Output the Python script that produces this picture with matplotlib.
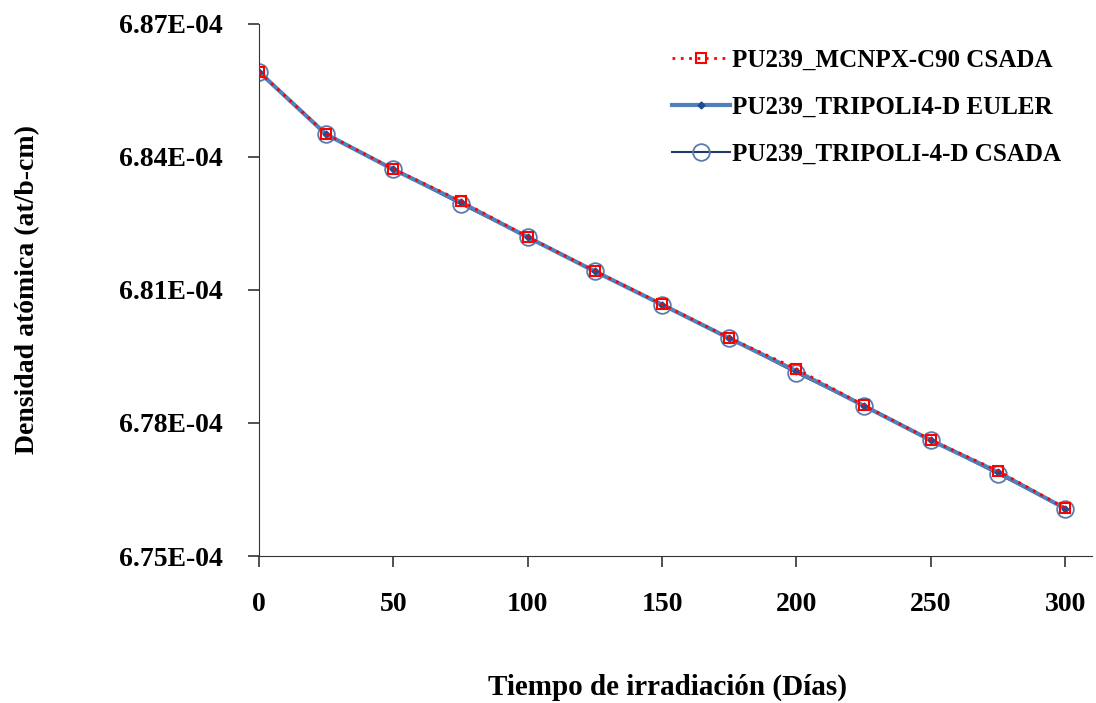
import matplotlib
matplotlib.use("Agg")
import matplotlib.pyplot as plt
from matplotlib.ticker import FuncFormatter

plt.rcParams['font.family'] = ['Liberation Serif', 'DejaVu Serif']
plt.rcParams['font.weight'] = 'bold'

# irradiation time (days)
dias = [0, 25, 50, 75, 100, 125, 150, 175, 200, 225, 250, 275, 300]
# atomic density in units of 1E-04 at/b-cm
mcnpx_csada = [6.8592, 6.8452, 6.8373, 6.8301, 6.8220, 6.8143, 6.8068,
               6.7992, 6.7922, 6.7840, 6.7762, 6.7692, 6.7608]
tripoli_euler = [6.8592, 6.8451, 6.8372, 6.8298, 6.8219, 6.8142, 6.8067,
                 6.7991, 6.7917, 6.7839, 6.7761, 6.7689, 6.7607]
tripoli_csada = [6.8592, 6.8451, 6.8372, 6.8294, 6.8219, 6.8142, 6.8067,
                 6.7991, 6.7913, 6.7839, 6.7761, 6.7685, 6.7607]
y_ticks = [6.75, 6.78, 6.81, 6.84, 6.87]
x_ticks = [0, 50, 100, 150, 200, 250, 300]

fig = plt.figure(figsize=(10.96, 7.03), dpi=100)
ax = fig.add_axes([0.2363, 0.2091, 0.7601, 0.7568])

ax.plot(dias, tripoli_csada, color='#1f3a68', lw=1.5, marker='o', ms=12,
        mfc='none', mec='#5a7bab', mew=1.3, label='PU239_TRIPOLI-4-D CSADA', zorder=2)
ax.plot(dias, tripoli_euler, color='#4f81bd', lw=3, marker='D', ms=3.5,
        mfc='#1f4e8c', mec='#1f4e8c', label='PU239_TRIPOLI4-D EULER', zorder=3)
ax.plot(dias, mcnpx_csada, color='#ff0000', lw=2, ls=(0, (1, 2)), marker='s', ms=7.5,
        mfc='none', mec='#ff0000', mew=1.5, label='PU239_MCNPX-C90 CSADA', zorder=4)

ax.set_xlim(0, 310)
ax.set_ylim(6.75, 6.87)
ax.set_xticks(x_ticks)
ax.set_yticks(y_ticks)
ax.yaxis.set_major_formatter(FuncFormatter(lambda v, p: f'{v:.2f}E-04'))
ax.spines['top'].set_visible(False)
ax.spines['right'].set_visible(False)
ax.spines['left'].set_color('#333333')
ax.spines['bottom'].set_color('#333333')
ax.tick_params(axis='both', direction='out', length=8, width=1.2, color='#333333',
               labelsize=20)
ax.tick_params(axis='x', pad=18)
ax.tick_params(axis='y', pad=18)

ax.set_xlabel('Tiempo de irradiación (Días)', fontsize=21, fontweight='bold')
ax.set_ylabel('Densidad atómica (at/b-cm)', fontsize=20, fontweight='bold')
ax.xaxis.set_label_coords(0.49, -0.222)
ax.yaxis.set_label_coords(-0.263, 0.5)

handles, labels = ax.get_legend_handles_labels()
order = [2, 1, 0]
ax.legend([handles[i] for i in order], [labels[i] for i in order], loc='upper right',
          bbox_to_anchor=(0.99, 0.995), frameon=False, handlelength=2.3,
          handletextpad=0.1, labelspacing=0.95, prop={'weight': 'bold', 'size': 18})

fig.savefig('out.png', dpi=100)
